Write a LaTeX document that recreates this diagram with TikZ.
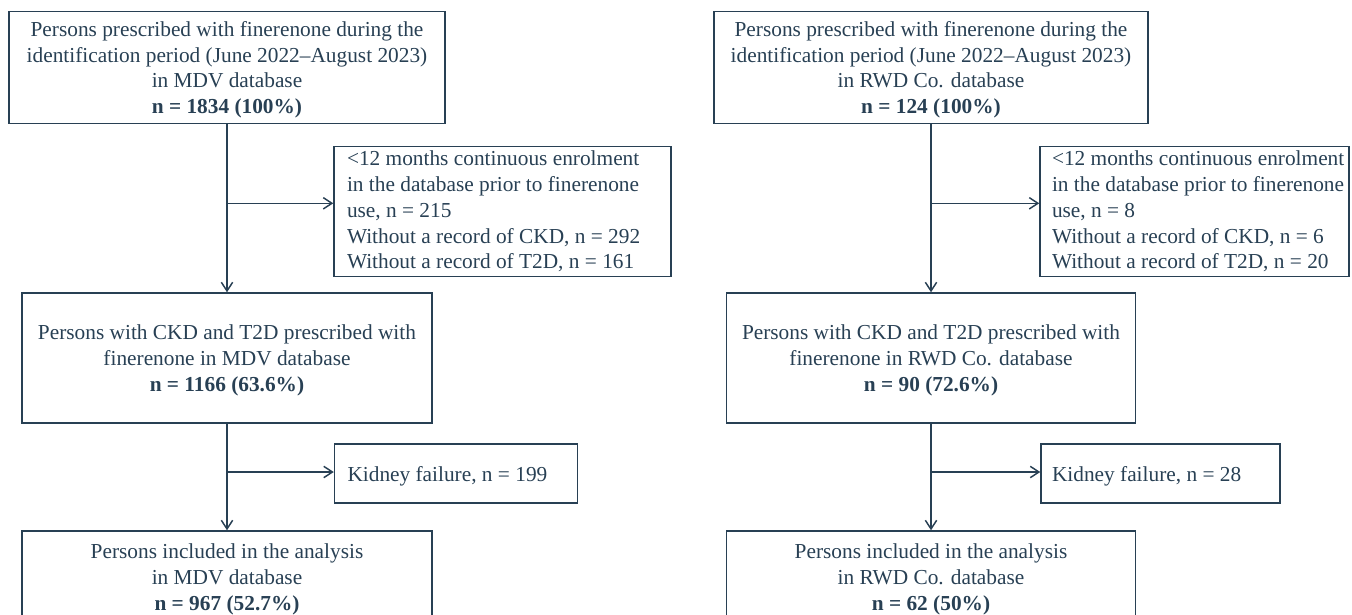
\documentclass[tikz,border=0pt]{standalone}
\usepackage{fontspec}
\setmainfont{Liberation Serif}
\usepackage{tikz}
\usetikzlibrary{positioning, arrows.meta}

\begin{document}
\begin{tikzpicture}[x=0.75pt, y=-0.75pt,
    flowbox/.style={draw=flowink, line width=1.1pt, inner sep=0pt, text=flowink,
        font=\fontsize{16}{19.3}\selectfont, align=center, text depth=0pt},
    sidebox/.style={draw=flowink, line width=1.1pt, inner sep=0pt, text=flowink,
        font=\fontsize{16}{19.3}\selectfont, align=flush left},
    flowarrow/.style={draw=flowink, line width=1.1pt, -{Straight Barb[length=6.5pt, width=8.5pt]}}]
    % Define colors
    \definecolor{flowink}{RGB}{40, 64, 84}

    \useasboundingbox (0, 0) rectangle (1352, 614);
    \clip (0, 0) rectangle (1352, 614);

    % MDV database (left column)
    \node[flowbox, minimum width=327pt, minimum height=83.7pt] (mdvall) at (227, 67.5)
        {Persons prescribed with finerenone during the\\identification period (June 2022–August 2023)\\in MDV database\\\textbf{n = 1834 (100\%)}};
    \node[sidebox, minimum width=252.75pt, minimum height=97.5pt, text width=233.25pt] (mdvexcl) at (502.5, 211.7)
        {<12 months continuous enrolment\\in the database prior to finerenone\\use, n = 215\\Without a record of CKD, n = 292\\Without a record of T2D, n = 161};
    \node[flowbox, minimum width=307.5pt, minimum height=97.5pt] (mdvckd) at (227, 358)
        {Persons with CKD and T2D prescribed with\\finerenone in MDV database\\\textbf{n = 1166 (63.6\%)}};
    \node[sidebox, minimum width=182.25pt, minimum height=44.25pt, text width=162.75pt, text depth=0pt] (mdvkf) at (456, 473.5)
        {Kidney failure, n = 199};
    \node[flowbox, minimum width=307.5pt, minimum height=69pt] (mdvincl) at (227, 577)
        {Persons included in the analysis\\in MDV database\\\textbf{n = 967 (52.7\%)}};

    % RWD Co. database (right column)
    \node[flowbox, minimum width=325.5pt, minimum height=83.7pt] (rwdall) at (931, 67.5)
        {Persons prescribed with finerenone during the\\identification period (June 2022–August 2023)\\in RWD Co. database\\\textbf{n = 124 (100\%)}};
    \node[sidebox, minimum width=231.75pt, minimum height=97.5pt, text width=213.75pt] (rwdexcl) at (1194.5, 211.7)
        {\mbox{<12 months continuous enrolment}\\\mbox{in the database prior to finerenone}\\use, n = 8\\Without a record of CKD, n = 6\\Without a record of T2D, n = 20};
    \node[flowbox, minimum width=306.75pt, minimum height=97.5pt] (rwdckd) at (931, 358)
        {Persons with CKD and T2D prescribed with\\finerenone in RWD Co. database\\\textbf{n = 90 (72.6\%)}};
    \node[sidebox, minimum width=179.25pt, minimum height=44.25pt, text width=162.75pt, text depth=0pt] (rwdkf) at (1160.5, 473.5)
        {Kidney failure, n = 28};
    \node[flowbox, minimum width=306.75pt, minimum height=69pt] (rwdincl) at (931, 577)
        {Persons included in the analysis\\in RWD Co. database\\\textbf{n = 62 (50\%)}};

    % Split points on the vertical lines
    \coordinate (mdvsplit1) at (227, 203.3);
    \coordinate (mdvsplit2) at (227, 472);
    \coordinate (rwdsplit1) at (931, 203.3);
    \coordinate (rwdsplit2) at (931, 472);

    % Connectors
    \draw[flowarrow] (mdvall.south) -- (mdvckd.north);
    \draw[flowarrow] (mdvsplit1) -- (mdvsplit1 -| mdvexcl.west);
    \draw[flowarrow] (mdvckd.south) -- (mdvincl.north);
    \draw[flowarrow] (mdvsplit2) -- (mdvsplit2 -| mdvkf.west);

    \draw[flowarrow] (rwdall.south) -- (rwdall.south |- rwdckd.north);
    \draw[flowarrow] (rwdsplit1) -- (rwdsplit1 -| rwdexcl.west);
    \draw[flowarrow] (rwdckd.south -| rwdall.south) -- (rwdall.south |- rwdincl.north);
    \draw[flowarrow] (rwdsplit2) -- (rwdsplit2 -| rwdkf.west);

\end{tikzpicture}
\end{document}
